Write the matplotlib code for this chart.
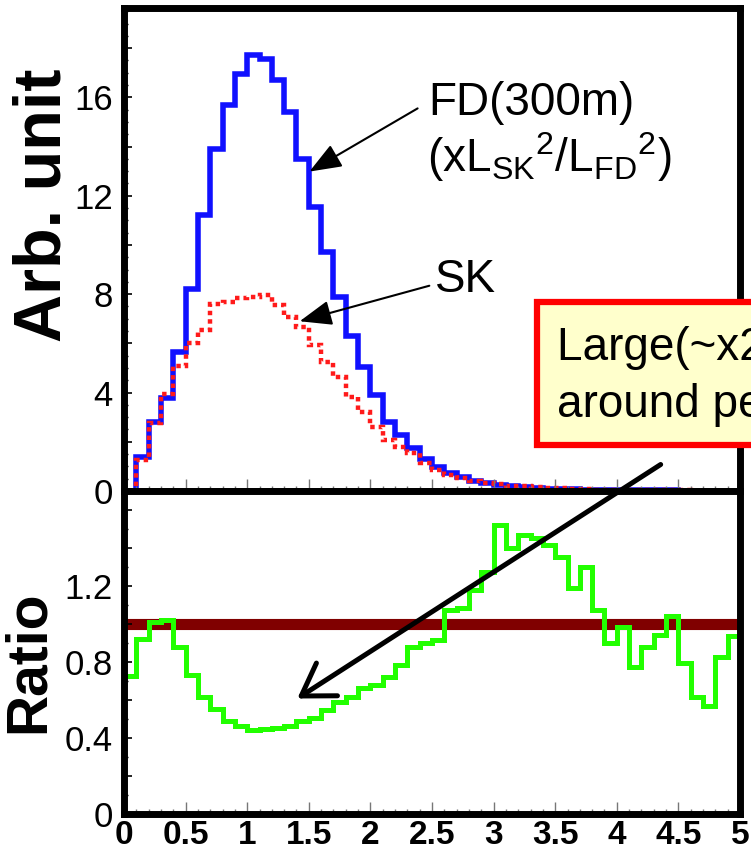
import numpy as np
import matplotlib
matplotlib.use('Agg')
import matplotlib.pyplot as plt
from matplotlib.patches import Rectangle, FancyArrowPatch
from matplotlib.ticker import MultipleLocator, FuncFormatter

plt.rcParams['font.family'] = ['Liberation Sans', 'DejaVu Sans']
plt.rcParams['mathtext.fontset'] = 'custom'
plt.rcParams['mathtext.rm'] = 'Liberation Sans'

## Binning: 50 bins of 0.1 from 0 to 5
bin_edges = np.round(np.arange(0, 5.05, 0.1), 2)

## FD(300m) scaled spectrum (blue)
fd_values = [0.0, 1.38, 2.8, 3.8, 5.65, 8.2, 11.2, 13.9, 15.7, 16.95,
             17.7, 17.55, 16.7, 15.4, 13.5, 11.55, 9.7, 7.9, 6.3, 5.05,
             3.9, 2.8, 2.28, 1.75, 1.3, 0.98, 0.73, 0.57, 0.4, 0.33,
             0.25, 0.2, 0.16, 0.13, 0.1, 0.08, 0.07, 0.06, 0.05, 0.045,
             0.04, 0.035, 0.03, 0.028, 0.025, 0.02, 0.018, 0.015, 0.013, 0.01]

## SK spectrum (red dotted)
sk_values = [0.0, 1.26, 2.76, 3.94, 5.08, 6.0, 6.55, 7.6, 7.68, 7.85,
             7.9, 7.95, 7.55, 7.07, 6.67, 5.93, 5.25, 4.63, 3.82, 3.2,
             2.6, 2.08, 1.8, 1.55, 1.14, 0.85, 0.65, 0.53, 0.4, 0.33,
             0.27, 0.22, 0.2, 0.17, 0.14, 0.11, 0.09, 0.08, 0.06, 0.05,
             0.045, 0.04, 0.035, 0.03, 0.027, 0.022, 0.018, 0.015, 0.012, 0.01]

## SK / FD ratio (green)
ratio_values = [0.726, 0.92, 1.01, 1.02, 0.88, 0.73, 0.616, 0.553, 0.489, 0.463,
                0.442, 0.447, 0.453, 0.463, 0.489, 0.505, 0.547, 0.59, 0.616, 0.663,
                0.679, 0.721, 0.784, 0.879, 0.9, 0.916, 1.074, 1.084, 1.179, 1.274,
                1.521, 1.4, 1.468, 1.453, 1.416, 1.353, 1.19, 1.3, 1.074, 0.9,
                0.984, 0.774, 0.879, 0.942, 1.042, 0.795, 0.616, 0.568, 0.826, 0.937]

x_ticks = [0, 0.5, 1, 1.5, 2, 2.5, 3, 3.5, 4, 4.5, 5]
x_labels = ['0', '0.5', '1', '1.5', '2', '2.5', '3', '3.5', '4', '4.5', '5']

W, H = 751, 864


def px(x, y):
    # pixel position (from top-left) -> figure fraction
    return (x / W, 1 - y / H)


def style_axes(ax):
    for sp in ax.spines.values():
        sp.set_linewidth(5)
    ax.tick_params(axis='both', which='both', direction='in', top=False, right=False)
    ax.tick_params(axis='x', which='major', length=9, width=1, color='#777777')
    ax.tick_params(axis='x', which='minor', length=3.5, width=1, color='#777777')
    ax.tick_params(axis='y', which='major', length=6, width=1.2, color='black', pad=8)
    ax.tick_params(axis='y', which='minor', length=3, width=1, color='black')
    ax.xaxis.set_major_locator(MultipleLocator(0.5))
    ax.xaxis.set_minor_locator(MultipleLocator(0.1))


fig = plt.figure(figsize=(W / 100, H / 100), dpi=100)
ax1 = fig.add_axes([124 / W, 1 - 491 / H, 616 / W, 483 / H])
ax2 = fig.add_axes([124 / W, 1 - 814 / H, 616 / W, 323 / H])

# top panel: spectra
ax1.stairs(fd_values, bin_edges, color='#1010ff', lw=4)
ax1.stairs(sk_values, bin_edges, color='#ff1a1a', lw=3.2, linestyle=(0, (1, 0.9)))
ax1.set_xlim(0, 5)
ax1.set_ylim(0, 19.63)
style_axes(ax1)
ax1.yaxis.set_major_locator(MultipleLocator(2))
ax1.yaxis.set_minor_locator(MultipleLocator(0.5))
ax1.yaxis.set_major_formatter(FuncFormatter(lambda v, p: f'{v:.0f}' if round(v) % 4 == 0 else ''))
ax1.tick_params(axis='y', labelsize=25)
ax1.set_xticklabels([])

# bottom panel: ratio
ax2.axhline(1.0, color='#800000', lw=8, zorder=1)
ax2.stairs(ratio_values, bin_edges, color='#22ff00', lw=3.6, baseline=None, zorder=2)
ax2.set_xlim(0, 5)
ax2.set_ylim(0, 1.70)
style_axes(ax2)
ax2.yaxis.set_major_locator(MultipleLocator(0.2))
ax2.yaxis.set_minor_locator(MultipleLocator(0.1))
ax2.yaxis.set_major_formatter(FuncFormatter(
    lambda v, p: ('0' if abs(v) < 1e-6 else f'{v:.1f}') if (abs(v / 0.4 - round(v / 0.4)) < 1e-6 and v < 1.3) else ''))
ax2.tick_params(axis='y', labelsize=25)
ax2.set_xticks(x_ticks)
ax2.set_xticklabels(x_labels, fontsize=24, fontweight='bold')
ax2.tick_params(axis='x', pad=4)

# axis titles
fig.text(*px(44, 205), 'Arb. unit', rotation=90, fontsize=48, fontweight='bold',
         ha='center', va='center')
fig.text(*px(29, 662), 'Ratio', rotation=90, fontsize=41, fontweight='bold',
         ha='center', va='center')

# curve labels with arrows
fig.text(*px(428, 115), 'FD(300m)', fontsize=33, ha='left', va='baseline')
fig.text(*px(427, 172), r'(xL$_{\mathregular{SK}}$$^{\mathregular{2}}$/L$_{\mathregular{FD}}$$^{\mathregular{2}}$)',
         fontsize=33, ha='left', va='baseline')
fig.text(*px(435, 292), 'SK', fontsize=33, ha='left', va='baseline')
fig.add_artist(FancyArrowPatch(px(420, 107), px(307, 173), transform=fig.transFigure,
                               arrowstyle='-|>,head_length=0.9,head_width=0.35',
                               mutation_scale=22, lw=1.5, color='black', zorder=5))
fig.add_artist(FancyArrowPatch(px(432, 285), px(297, 322), transform=fig.transFigure,
                               arrowstyle='-|>,head_length=0.9,head_width=0.35',
                               mutation_scale=22, lw=1.5, color='black', zorder=5))

# highlight box (runs off the right edge like the slide it came from)
x0, y0 = px(537, 445)
fig.add_artist(Rectangle((x0, y0), 1.1 - x0, (445 - 302) / H, transform=fig.transFigure,
                         facecolor='#ffffcc', edgecolor='#ff0000', lw=4.5, zorder=4))
fig.text(*px(557, 360), 'Large(~x2) difference', fontsize=33, ha='left', va='baseline', zorder=6)
fig.text(*px(557, 417), 'around peak', fontsize=33, ha='left', va='baseline', zorder=6)

# big arrow pointing at the dip of the ratio
fig.add_artist(FancyArrowPatch(px(663, 463), px(295, 700), transform=fig.transFigure,
                               arrowstyle='->,head_length=0.55,head_width=0.35',
                               mutation_scale=40, lw=3.6, color='black', zorder=5))

fig.savefig('out.png', dpi=100)
